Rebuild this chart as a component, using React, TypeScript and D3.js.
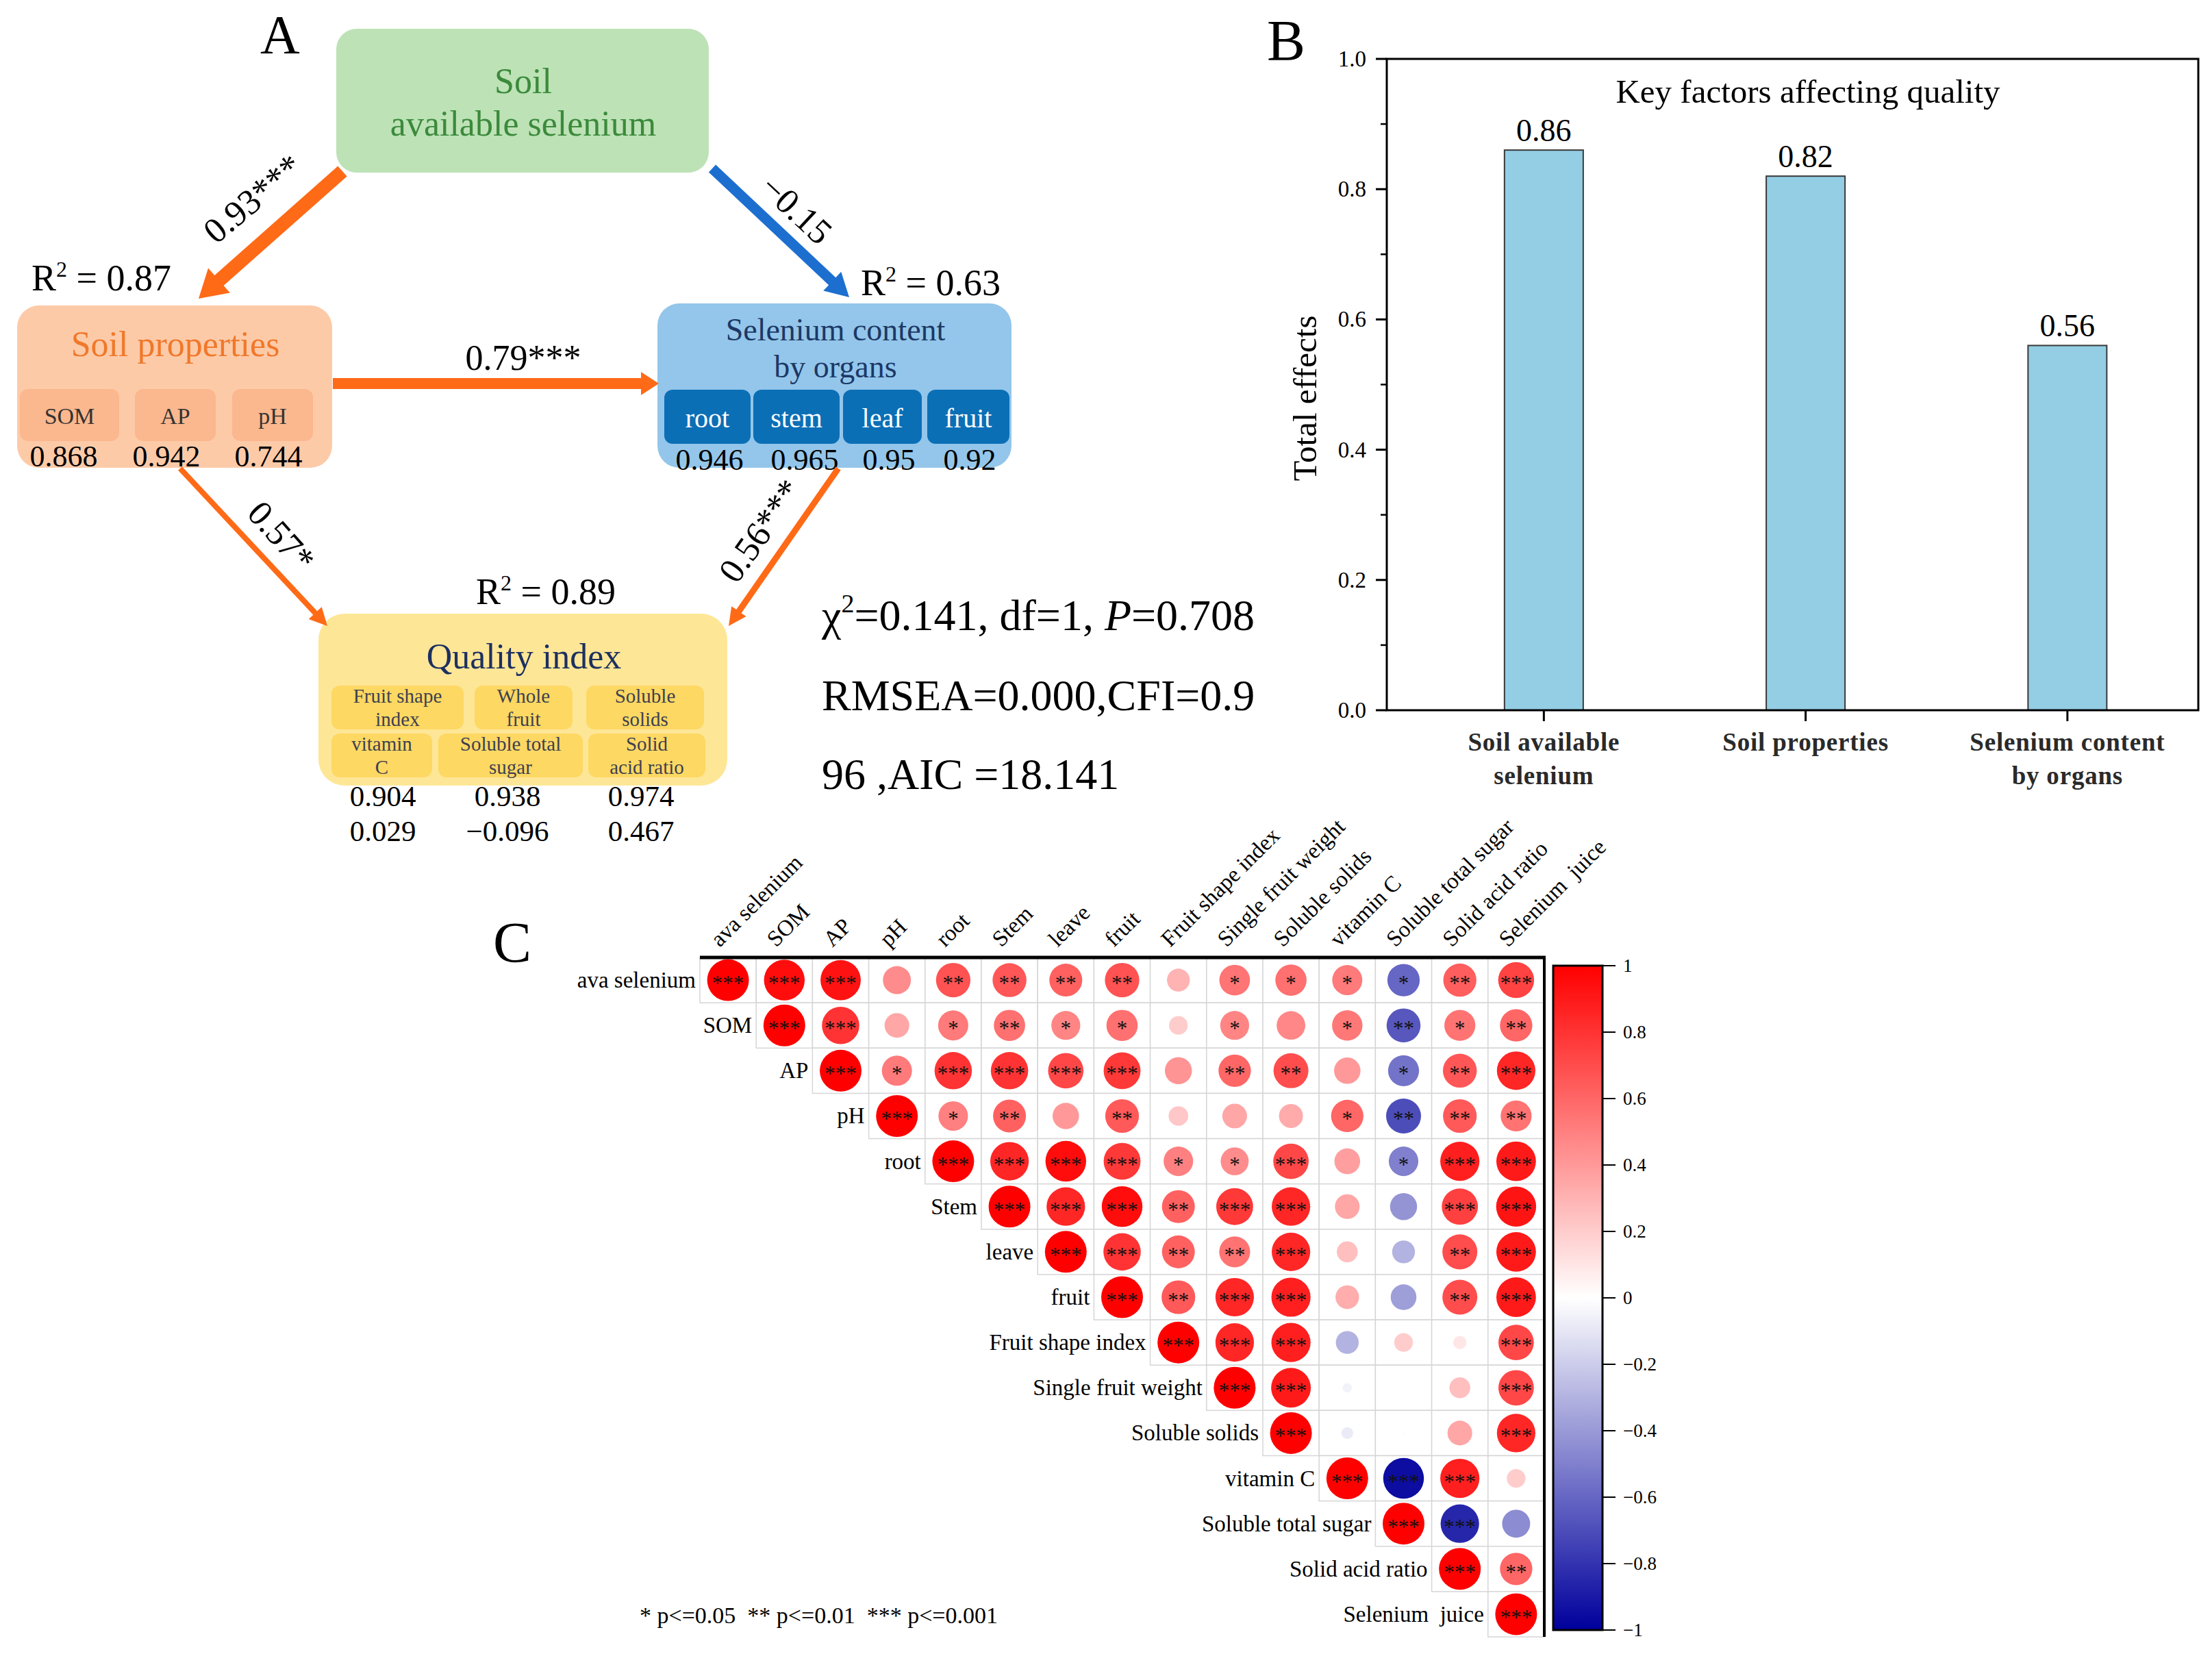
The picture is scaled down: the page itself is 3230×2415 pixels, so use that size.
import React from "react";
import * as d3 from "d3";

// ---------- Panel A data ----------
const soilPropIndicators = ["SOM", "AP", "pH"];
const soilPropLoadings = ["0.868", "0.942", "0.744"];
const organIndicators = ["root", "stem", "leaf", "fruit"];
const organLoadings = ["0.946", "0.965", "0.95", "0.92"];
const qualityIndicators = [["Fruit shape", "index"], ["Whole", "fruit"], ["Soluble", "solids"], ["vitamin", "C"], ["Soluble total", "sugar"], ["Solid", "acid ratio"]];
const qualityLoadings = ["0.904", "0.938", "0.974", "0.029", "\u22120.096", "0.467"];
const pathLabels = ["0.93***", "\u22120.15", "0.79***", "0.57*", "0.56***"];
const rSquared = ["0.87", "0.63", "0.89"];
const fitStats = ["0.141", "1", "0.708", "0.000", "0.9", "96", "18.141"];

// ---------- Panel B data ----------
const factorCategories = [["Soil available", "selenium"], ["Soil properties"], ["Selenium content", "by organs"]];
const totalEffects = [0.86, 0.82, 0.56];

// ---------- Panel C data ----------
const variables = ["ava selenium", "SOM", "AP", "pH", "root", "Stem", "leave", "fruit", "Fruit shape index", "Single fruit weight", "Soluble solids", "vitamin C", "Soluble total sugar", "Solid acid ratio", "Selenium  juice"];
const corrRows = [
  [1, 0.95, 0.93, 0.45, 0.68, 0.66, 0.62, 0.68, 0.30, 0.54, 0.56, 0.52, -0.60, 0.63, 0.74],
  [1, 0.80, 0.35, 0.52, 0.56, 0.48, 0.56, 0.20, 0.48, 0.47, 0.53, -0.66, 0.55, 0.60],
  [1, 0.52, 0.80, 0.80, 0.72, 0.78, 0.42, 0.60, 0.70, 0.40, -0.55, 0.66, 0.85],
  [1, 0.50, 0.62, 0.40, 0.65, 0.22, 0.35, 0.33, 0.60, -0.70, 0.65, 0.55],
  [1, 0.85, 0.95, 0.78, 0.50, 0.45, 0.72, 0.38, -0.50, 0.88, 0.90],
  [1, 0.85, 0.95, 0.62, 0.78, 0.85, 0.35, -0.42, 0.75, 0.92],
  [1, 0.80, 0.62, 0.55, 0.85, 0.25, -0.30, 0.70, 0.90],
  [1, 0.65, 0.85, 0.88, 0.32, -0.38, 0.70, 0.90],
  [1, 0.85, 0.88, -0.30, 0.20, 0.10, 0.72],
  [1, 0.90, -0.05, 0.0, 0.25, 0.72],
  [1, -0.08, 0.01, 0.35, 0.85],
  [1, -0.95, 0.88, 0.20],
  [1, -0.85, -0.45],
  [1, 0.60],
  [1],
];
const sigRows = [
  [3, 3, 3, 0, 2, 2, 2, 2, 0, 1, 1, 1, 1, 2, 3],
  [3, 3, 0, 1, 2, 1, 1, 0, 1, 0, 1, 2, 1, 2],
  [3, 1, 3, 3, 3, 3, 0, 2, 2, 0, 1, 2, 3],
  [3, 1, 2, 0, 2, 0, 0, 0, 1, 2, 2, 2],
  [3, 3, 3, 3, 1, 1, 3, 0, 1, 3, 3],
  [3, 3, 3, 2, 3, 3, 0, 0, 3, 3],
  [3, 3, 2, 2, 3, 0, 0, 2, 3],
  [3, 2, 3, 3, 0, 0, 2, 3],
  [3, 3, 3, 0, 0, 0, 3],
  [3, 3, 0, 0, 0, 3],
  [3, 0, 0, 0, 3],
  [3, 3, 3, 0],
  [3, 3, 0],
  [3, 2],
  [3],
];
const legendText = "* p<=0.05  ** p<=0.01  *** p<=0.001";

const SERIF = "'Liberation Serif', 'Times New Roman', serif";

function arrowPoints(x1: number, y1: number, x2: number, y2: number, shaft: number, headW: number, headL: number) {
  const dx = x2 - x1, dy = y2 - y1;
  const len = Math.hypot(dx, dy);
  const ux = dx / len, uy = dy / len;
  const nx = -uy, ny = ux;
  const bx = x2 - ux * headL, by = y2 - uy * headL;
  const p = [
    [x1 + nx * shaft / 2, y1 + ny * shaft / 2],
    [bx + nx * shaft / 2, by + ny * shaft / 2],
    [bx + nx * headW / 2, by + ny * headW / 2],
    [x2, y2],
    [bx - nx * headW / 2, by - ny * headW / 2],
    [bx - nx * shaft / 2, by - ny * shaft / 2],
    [x1 - nx * shaft / 2, y1 - ny * shaft / 2],
  ];
  return p.map((q) => q.join(",")).join(" ");
}

function RSq({ x, y, v, anchor = "start" }: any) {
  return (
    <text x={x} y={y} fontSize={54} fontFamily={SERIF} textAnchor={anchor} style={{ whiteSpace: "pre" }}>
      R<tspan fontSize={32} dy={-20}>2</tspan><tspan dy={20}>{" = " + v}</tspan>
    </text>
  );
}

function PanelA() {
  const orange = "#ff6a17";
  const blue = "#1d6fcf";
  const soilSub = [[29, 174], [197, 315], [339, 457]];
  const soilValX = [93, 243, 392];
  const organSub = [[970, 1096], [1100, 1226], [1231, 1346], [1354, 1474]];
  const organValX = [1036, 1175, 1298, 1416];
  const qSub = [
    [484, 677, 1001, 1065], [693, 836, 1001, 1065], [856, 1028, 1001, 1065],
    [484, 631, 1071, 1135], [640, 851, 1071, 1135], [859, 1030, 1071, 1135],
  ];
  const qValX = [559, 741, 936];
  const arrows = [
    { p: [500, 250, 290, 436], s: 20, hw: 48, hl: 40, c: orange, lx: 369, ly: 290, rot: -40 },
    { p: [1040, 246, 1240, 434], s: 15, hw: 38, hl: 34, c: blue, lx: 1163, ly: 306, rot: 43 },
    { p: [486, 560, 962, 560], s: 16, hw: 34, hl: 26, c: orange, lx: 764, ly: 522, rot: 0 },
    { p: [263, 684, 478, 914], s: 8, hw: 26, hl: 26, c: orange, lx: 411, ly: 783, rot: 48 },
    { p: [1224, 684, 1064, 914], s: 9, hw: 26, hl: 26, c: orange, lx: 1110, ly: 775, rot: -55 },
  ];
  return (
    <g fontFamily={SERIF}>
      <text x={380} y={78} fontSize={80}>A</text>
      {/* boxes */}
      <rect x={491} y={42} width={544} height={210} rx={30} fill="#bde2b6" />
      <text x={764} y={136} fontSize={52} textAnchor="middle" fill="#3b8a3b">Soil</text>
      <text x={764} y={198} fontSize={52} textAnchor="middle" fill="#3b8a3b">available selenium</text>

      <rect x={25} y={446} width={460} height={237} rx={32} fill="#fdcaa8" />
      <text x={256} y={520} fontSize={52} textAnchor="middle" fill="#f0782a">Soil properties</text>
      {soilPropIndicators.map((t, i) => (
        <g key={t}>
          <rect x={soilSub[i][0]} y={568} width={soilSub[i][1] - soilSub[i][0]} height={76} rx={12} fill="#fbb78d" />
          <text x={(soilSub[i][0] + soilSub[i][1]) / 2} y={619} fontSize={34} textAnchor="middle" fill="#333">{t}</text>
          <text x={soilValX[i]} y={681} fontSize={44} textAnchor="middle">{soilPropLoadings[i]}</text>
        </g>
      ))}

      <rect x={960} y={443} width={517} height={240} rx={32} fill="#93c6ea" />
      <text x={1220} y={497} fontSize={46} textAnchor="middle" fill="#1c3866">Selenium content</text>
      <text x={1220} y={551} fontSize={46} textAnchor="middle" fill="#1c3866">by organs</text>
      {organIndicators.map((t, i) => (
        <g key={t}>
          <rect x={organSub[i][0]} y={569} width={organSub[i][1] - organSub[i][0]} height={79} rx={12} fill="#0b6fb6" />
          <text x={(organSub[i][0] + organSub[i][1]) / 2} y={624} fontSize={40} textAnchor="middle" fill="#ffffff">{t}</text>
          <text x={organValX[i]} y={686} fontSize={44} textAnchor="middle">{organLoadings[i]}</text>
        </g>
      ))}

      <rect x={465} y={896} width={597} height={251} rx={38} fill="#fee697" />
      <text x={765} y={976} fontSize={52} textAnchor="middle" fill="#1c3060">Quality index</text>
      {qualityIndicators.map((lines, i) => (
        <g key={i}>
          <rect x={qSub[i][0]} y={qSub[i][2]} width={qSub[i][1] - qSub[i][0]} height={qSub[i][3] - qSub[i][2]} rx={12} fill="#fdd862" />
          {lines.map((l, k) => (
            <text key={k} x={(qSub[i][0] + qSub[i][1]) / 2} y={qSub[i][2] + 25 + k * 34} fontSize={29} textAnchor="middle" fill="#3e4050">{l}</text>
          ))}
        </g>
      ))}
      {qualityLoadings.map((v, i) => (
        <text key={i} x={qValX[i % 3]} y={i < 3 ? 1177 : 1228} fontSize={43} textAnchor="middle">{v}</text>
      ))}

      {/* arrows */}
      {arrows.map((a, i) => (
        <g key={i}>
          <polygon points={arrowPoints(a.p[0], a.p[1], a.p[2], a.p[3], a.s, a.hw, a.hl)} fill={a.c} />
          <text transform={`translate(${a.lx},${a.ly}) rotate(${a.rot})`} fontSize={52} textAnchor="middle" dominantBaseline="central">{pathLabels[i]}</text>
        </g>
      ))}

      <RSq x={46} y={424} v={rSquared[0]} />
      <RSq x={1257} y={431} v={rSquared[1]} />
      <RSq x={797} y={882} v={rSquared[2]} anchor="middle" />

      {/* fit statistics */}
      <text x={1200} y={920} fontSize={64}>
        χ<tspan fontSize={38} dy={-26}>2</tspan><tspan dy={26}>{"=" + fitStats[0] + ", df=" + fitStats[1] + ", "}</tspan><tspan fontStyle="italic">P</tspan>{"=" + fitStats[2]}
      </text>
      <text x={1200} y={1037} fontSize={64}>{"RMSEA=" + fitStats[3] + ",CFI=" + fitStats[4]}</text>
      <text x={1200} y={1152} fontSize={64} style={{ whiteSpace: "pre" }}>{fitStats[5] + " ,AIC =" + fitStats[6]}</text>
    </g>
  );
}

function PanelB() {
  const x0 = 2025, x1 = 3210, y0 = 86, y1 = 1037;
  const y = d3.scaleLinear().domain([0, 1]).range([y1, y0]);
  const x = d3.scaleLinear().domain([0.4, 3.5]).range([x0, x1]);
  const barW = 115;
  const majors = y.ticks(5);
  const minors = d3.range(0.1, 1, 0.2);
  const fmt = d3.format(".1f");
  return (
    <g fontFamily={SERIF}>
      <text x={1850} y={88} fontSize={84}>B</text>
      {totalEffects.map((v, i) => (
        <g key={i}>
          <rect x={x(i + 1) - barW / 2} y={y(v)} width={barW} height={y(0) - y(v)} fill="#93cee4" stroke="#3a3a3a" strokeWidth={2} />
          <text x={x(i + 1)} y={y(v) - 13} fontSize={46} textAnchor="middle">{v.toFixed(2)}</text>
          <line x1={x(i + 1)} x2={x(i + 1)} y1={y1} y2={y1 + 16} stroke="#000" strokeWidth={3} />
          {factorCategories[i].map((l, k) => (
            <text key={k} x={x(i + 1)} y={1096 + k * 49} fontSize={37} fontWeight="bold" textAnchor="middle" fill="#2a2a2a" letterSpacing={0.8}>{l}</text>
          ))}
        </g>
      ))}
      <rect x={x0} y={y0} width={x1 - x0} height={y1 - y0} fill="none" stroke="#000" strokeWidth={3} />
      {majors.map((t) => (
        <g key={t}>
          <line x1={x0 - 16} x2={x0} y1={y(t)} y2={y(t)} stroke="#000" strokeWidth={3} />
          <text x={x0 - 30} y={y(t) + 11} fontSize={33} textAnchor="end">{fmt(t)}</text>
        </g>
      ))}
      {minors.map((t) => (
        <line key={t} x1={x0 - 9} x2={x0} y1={y(t)} y2={y(t)} stroke="#000" strokeWidth={2.5} />
      ))}
      <text transform={`translate(1922,${(y0 + y1) / 2 + 20}) rotate(-90)`} fontSize={49} textAnchor="middle">Total effects</text>
      <text x={2640} y={150} fontSize={49} textAnchor="middle">Key factors affecting quality</text>
    </g>
  );
}

function PanelC() {
  const x0 = 1022, x1 = 2255, y0 = 1398, y1 = 2390;
  const xb = d3.scaleBand().domain(variables).range([x0, x1]);
  const yb = d3.scaleBand().domain(variables).range([y0, y1]);
  const bw = xb.bandwidth(), bh = yb.bandwidth();
  const rs = d3.scaleSqrt().domain([0, 1]).range([0, 30.5]);
  const color = d3.scaleLinear<string>().domain([-1, 0, 1]).range(["#00009c", "#ffffff", "#ff0000"]).interpolate(d3.interpolateRgb);
  const cb = d3.scaleLinear().domain([-1, 1]).range([2380, 1410]);
  const cbTicks = cb.ticks(10);
  const cbFmt = d3.format("~f");
  const stops = d3.range(0, 21).map((k) => -1 + k * 0.1);
  const cells: any[] = [];
  corrRows.forEach((row, i) => {
    row.forEach((v, k) => {
      const j = i + k;
      cells.push({ i, j, v, s: sigRows[i][k] });
    });
  });
  return (
    <g fontFamily={SERIF}>
      <defs>
        <linearGradient id="cbgrad" x1="0" x2="0" y1="1" y2="0">
          {stops.map((s) => (
            <stop key={s.toFixed(2)} offset={(s + 1) / 2} stopColor={color(s)} />
          ))}
        </linearGradient>
      </defs>
      <text x={720} y={1405} fontSize={84}>C</text>
      {cells.map((c) => (
        <rect key={`r${c.i}-${c.j}`} x={xb(variables[c.j])} y={yb(variables[c.i])} width={bw} height={bh} fill="#fff" stroke="#d6d6d6" strokeWidth={1.5} />
      ))}
      {cells.map((c) => {
        const cx = (xb(variables[c.j]) as number) + bw / 2;
        const cy = (yb(variables[c.i]) as number) + bh / 2;
        return (
          <g key={`c${c.i}-${c.j}`}>
            <circle cx={cx} cy={cy} r={rs(Math.abs(c.v))} fill={color(c.v)} />
            {c.s > 0 && (
              <text x={cx} y={cy + 15} fontSize={31} textAnchor="middle" fill="#111">{"*".repeat(c.s)}</text>
            )}
          </g>
        );
      })}
      <line x1={x0} x2={x1 + 2} y1={y0} y2={y0} stroke="#000" strokeWidth={5} />
      <line x1={x1} x2={x1} y1={y0} y2={y1} stroke="#000" strokeWidth={4} />
      {variables.map((v, i) => (
        <g key={v}>
          <text x={(xb(v) as number) - 6} y={(yb(v) as number) + bh / 2 + 11} fontSize={33} textAnchor="end" style={{ whiteSpace: "pre" }}>{v}</text>
          <text transform={`translate(${(xb(v) as number) + bw / 2 - 12},${y0 - 14}) rotate(-45)`} fontSize={33} style={{ whiteSpace: "pre" }}>{v}</text>
        </g>
      ))}
      {/* colorbar */}
      <rect x={2268} y={1410} width={72} height={970} fill="url(#cbgrad)" stroke="#000" strokeWidth={3} />
      {cbTicks.map((t) => (
        <g key={t}>
          <line x1={2340} x2={2359} y1={cb(t)} y2={cb(t)} stroke="#000" strokeWidth={2} />
          <text x={2370} y={cb(t) + 9} fontSize={27}>{cbFmt(t)}</text>
        </g>
      ))}
      <text x={934} y={2370} fontSize={34} style={{ whiteSpace: "pre" }}>{legendText}</text>
    </g>
  );
}

export default function App() {
  return (
    <svg width={3230} height={2415} viewBox="0 0 3230 2415" style={{ position: "absolute", left: 0, top: 0, background: "#fff" }}>
      <rect width={3230} height={2415} fill="#fff" />
      <PanelA />
      <PanelB />
      <PanelC />
    </svg>
  );
}
